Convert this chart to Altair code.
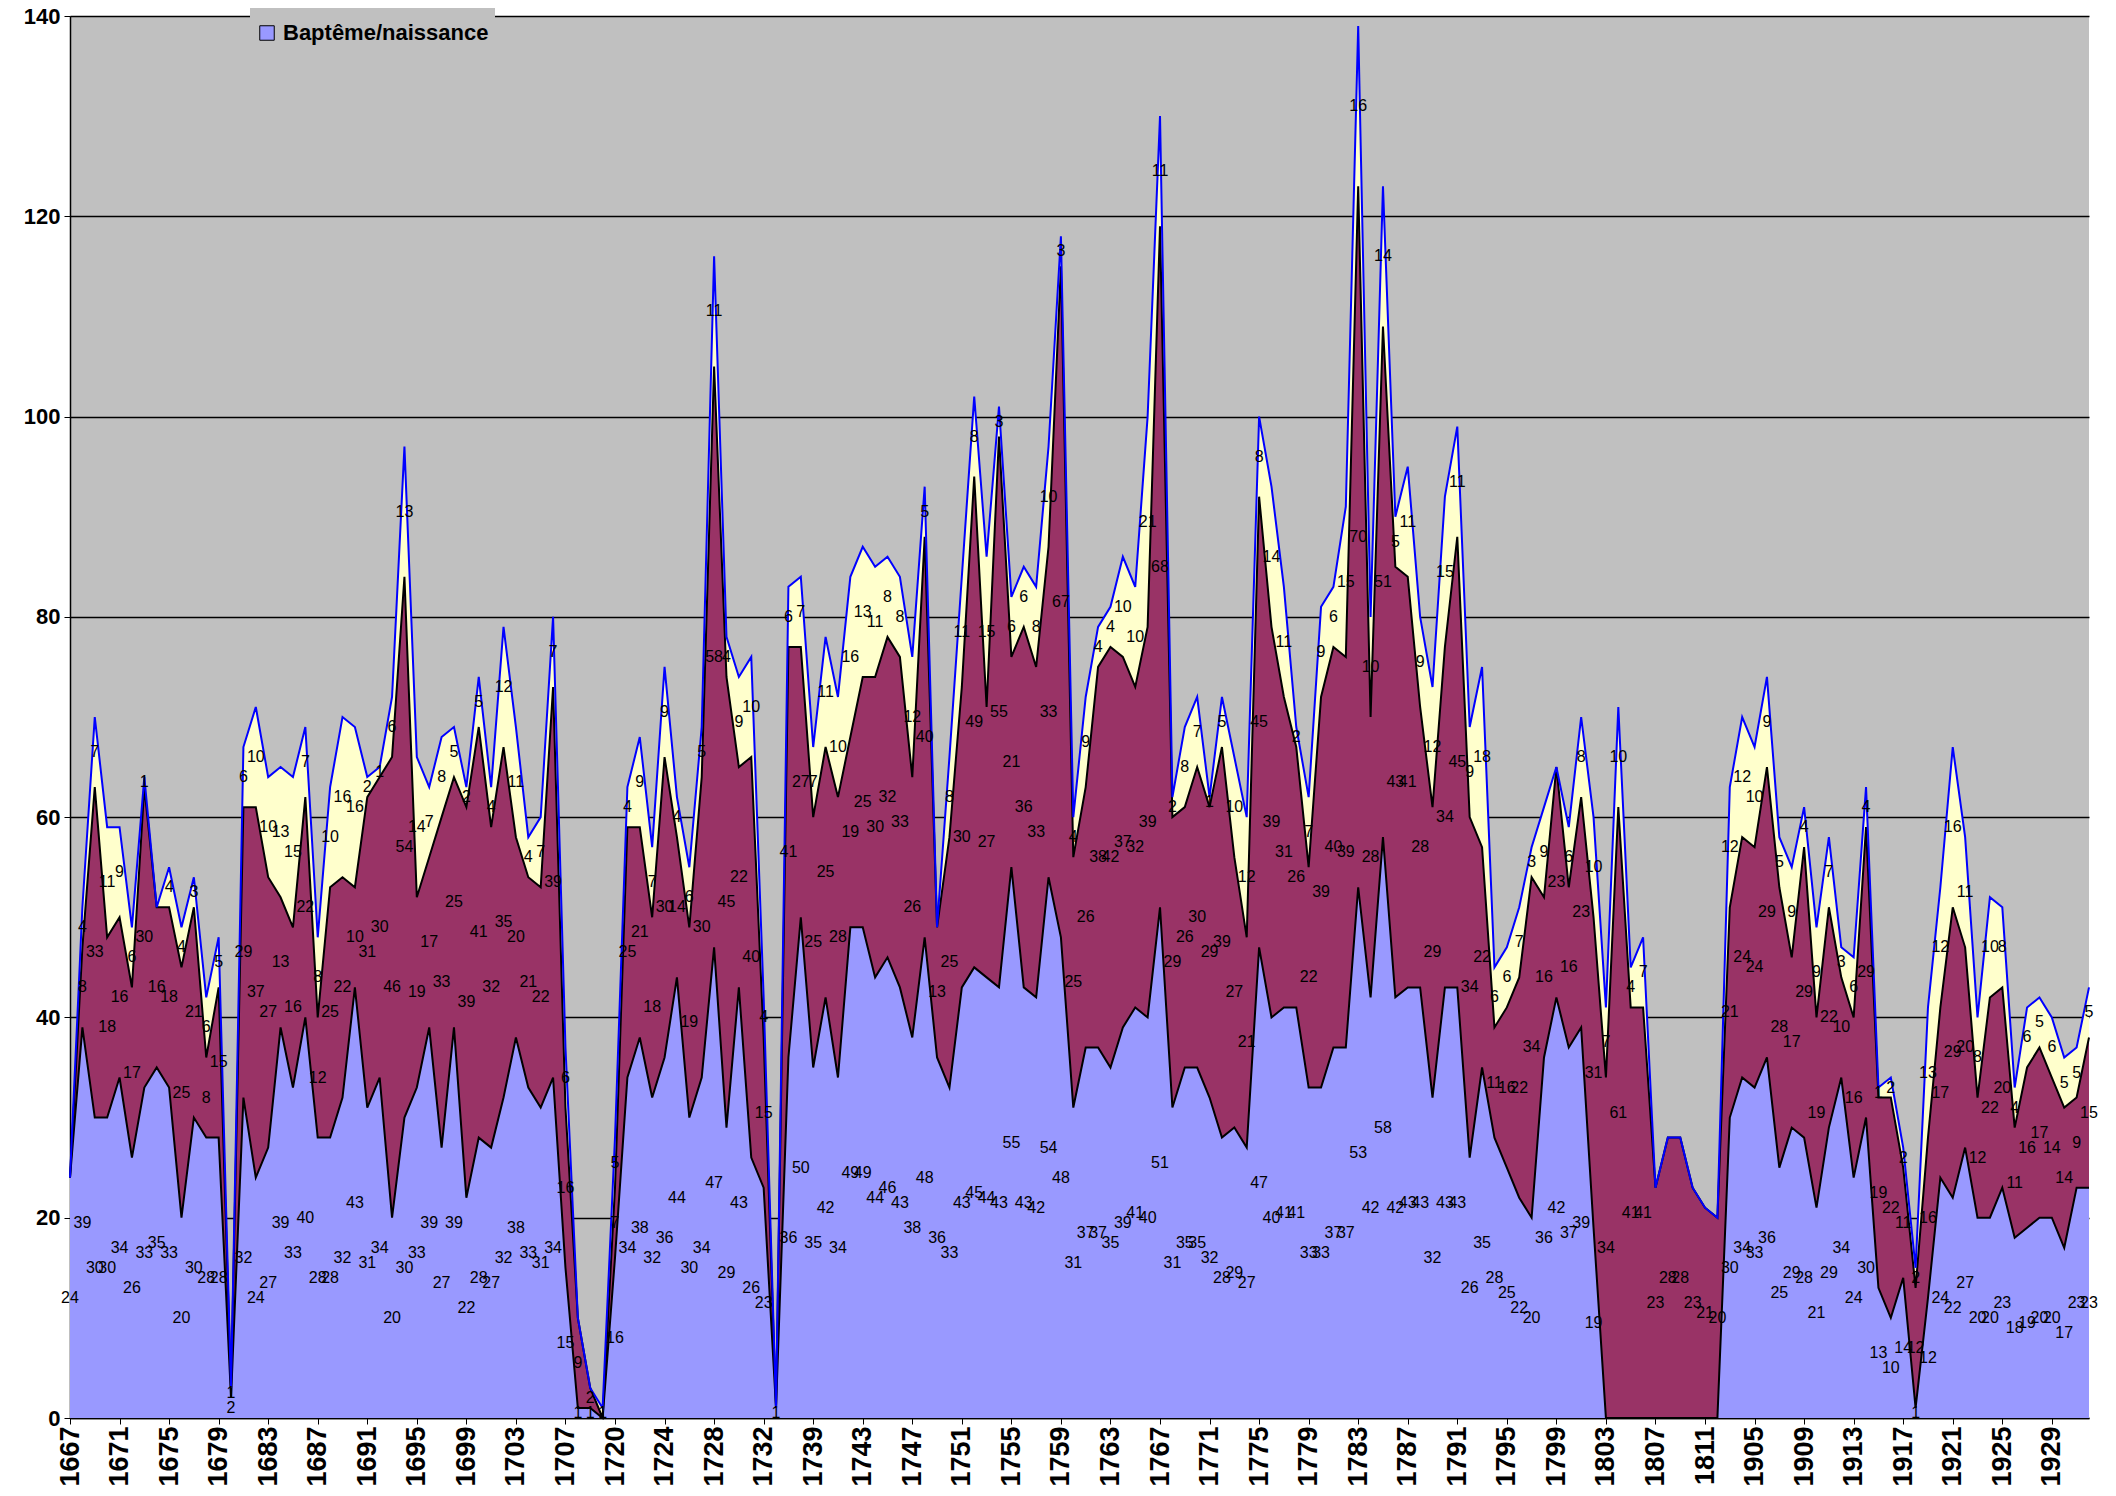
import altair as alt
import pandas as pd

# ---------------- data ----------------
categories = (
    [str(y) for y in range(1667, 1708)]
    + ["1708", "1709", "1719"]
    + [str(y) for y in range(1720, 1733)]
    + ["1733", "1737", "1738"]
    + [str(y) for y in range(1739, 1812)]
    + ["1902", "1903", "1904"]
    + [str(y) for y in range(1905, 1933)]
)

bapteme = [
    24, 39, 30, 30, 34, 26, 33, 35, 33, 20, 30, 28, 28, 2, 32, 24, 27, 39, 33, 40,
    28, 28, 32, 43, 31, 34, 20, 30, 33, 39, 27, 39, 22, 28, 27, 32, 38, 33, 31, 34,
    15, 1, 1, 0, 16, 34, 38, 32, 36, 44, 30, 34, 47, 29, 43, 26, 23, 1, 36, 50,
    35, 42, 34, 49, 49, 44, 46, 43, 38, 48, 36, 33, 43, 45, 44, 43, 55, 43, 42, 54,
    48, 31, 37, 37, 35, 39, 41, 40, 51, 31, 35, 35, 32, 28, 29, 27, 47, 40, 41, 41,
    33, 33, 37, 37, 53, 42, 58, 42, 43, 43, 32, 43, 43, 26, 35, 28, 25, 22, 20, 36,
    42, 37, 39, 19, 0, 0, 0, 0, 0, 0, 0, 0, 0, 0, 30, 34, 33, 36, 25, 29,
    28, 21, 29, 34, 24, 30, 13, 10, 14, 1, 12, 24, 22, 27, 20, 20, 23, 18, 19, 20,
    20, 17, 23, 23,
]

deces = [
    0, 8, 33, 18, 16, 17, 30, 16, 18, 25, 21, 8, 15, 1, 29, 37, 27, 13, 16, 22,
    12, 25, 22, 10, 31, 30, 46, 54, 19, 17, 33, 25, 39, 41, 32, 35, 20, 21, 22, 39,
    16, 9, 2, 0, 7, 25, 21, 18, 30, 14, 19, 30, 58, 45, 22, 40, 15, 0, 41, 27,
    25, 25, 28, 19, 25, 30, 32, 33, 26, 40, 13, 25, 30, 49, 27, 55, 21, 36, 33, 33,
    67, 25, 26, 38, 42, 37, 32, 39, 68, 29, 26, 30, 29, 39, 27, 21, 45, 39, 31, 26,
    22, 39, 40, 39, 70, 28, 51, 43, 41, 28, 29, 34, 45, 34, 22, 11, 16, 22, 34, 16,
    23, 16, 23, 31, 34, 61, 41, 41, 23, 28, 28, 23, 21, 20, 21, 24, 24, 29, 28, 17,
    29, 19, 22, 10, 16, 29, 19, 22, 11, 12, 16, 17, 29, 20, 12, 22, 20, 11, 16, 17,
    14, 14, 9, 15,
]

mariages = [
    0, 4, 7, 11, 9, 6, 1, 0, 4, 4, 3, 6, 5, 0, 6, 10, 10, 13, 15, 7,
    8, 10, 16, 16, 2, 1, 6, 13, 14, 7, 8, 5, 2, 5, 4, 12, 11, 4, 7, 7,
    6, 0, 0, 1, 5, 4, 9, 7, 9, 4, 6, 5, 11, 4, 9, 10, 4, 0, 6, 7,
    7, 11, 10, 16, 13, 11, 8, 8, 12, 5, 0, 8, 11, 8, 15, 3, 6, 6, 8, 10,
    3, 4, 9, 4, 4, 10, 10, 21, 11, 2, 8, 7, 1, 5, 10, 12, 8, 14, 11, 2,
    7, 9, 6, 15, 16, 10, 14, 5, 11, 9, 12, 15, 11, 9, 18, 6, 6, 7, 3, 9,
    0, 6, 8, 10, 7, 10, 4, 7, 0, 0, 0, 0, 0, 0, 12, 12, 10, 9, 5, 9,
    4, 9, 7, 3, 6, 4, 1, 2, 2, 2, 13, 12, 16, 11, 8, 10, 8, 4, 6, 5,
    6, 5, 5, 5,
]

series_names = ["Mariages", "Décès", "Baptême/naissance"]
series_colors = ["#FFFFCC", "#993366", "#9999FF"]
tick_labels = categories[::4]
y_ticks = [0, 20, 40, 60, 80, 100, 120, 140]

# ---------------- derived tables ----------------
base = pd.DataFrame({"cat": categories, "b": bapteme, "d": deces, "m": mariages})
base["c1"] = base["b"]
base["c2"] = base["b"] + base["d"]
base["c3"] = base["c2"] + base["m"]

rows = []
for _, r in base.iterrows():
    parts = [
        ("Baptême/naissance", 0, r["c1"], r["b"]),
        ("Décès", r["c1"], r["c2"], r["d"]),
        ("Mariages", r["c2"], r["c3"], r["m"]),
    ]
    for name, lo, hi, val in parts:
        rows.append({"cat": r["cat"], "series": name, "lo": lo, "hi": hi,
                     "val": val, "mid": (lo + hi) / 2})
long = pd.DataFrame(rows)
labels = long[long["val"] > 0].copy()
labels["txt"] = labels["val"].astype(int).astype(str)

FONT = "Liberation Sans"
x_scale = alt.Scale(type="point", padding=0, domain=categories)

x_enc = alt.X(
    "cat:O",
    sort=categories,
    scale=x_scale,
    axis=alt.Axis(
        values=tick_labels, labelAngle=-90, title=None, labelFont=FONT,
        labelFontSize=27, labelFontWeight="bold", labelColor="black",
        domainColor="black", domainWidth=1.5, tickColor="black", tickSize=6,
        labelPadding=2, grid=False, labelOverlap=False,
    ),
)
y_scale = alt.Scale(domain=[0, 140], nice=False, zero=True)
y_axis = alt.Axis(
    values=y_ticks, title=None, labelFont=FONT, labelFontSize=22,
    labelFontWeight="bold", labelColor="black", domainColor="black",
    domainWidth=1.5, tickColor="black", tickSize=6, grid=True,
    gridColor="black", gridWidth=1.5, labelPadding=4,
)

areas = alt.Chart(long).mark_area(opacity=1, interpolate="linear").encode(
    x=x_enc,
    y=alt.Y("hi:Q", stack=None, scale=y_scale, axis=y_axis),
    y2="lo:Q",
    color=alt.Color(
        "series:N",
        scale=alt.Scale(domain=series_names, range=series_colors),
        legend=alt.Legend(
            title=None, orient="none", legendX=180, legendY=-76,
            symbolType="square", symbolSize=210, symbolStrokeColor="black",
            symbolStrokeWidth=1, symbolOpacity=1, labelFont=FONT,
            labelFontSize=22, labelFontWeight="bold", labelColor="black",
            labelLimit=0, fillColor="#C0C0C0", padding=6, rowPadding=16,
            labelOffset=5,
        ),
    ),
    detail="series:N",
)

def boundary(field, colour):
    return alt.Chart(base).mark_line(color=colour, strokeWidth=2, interpolate="linear").encode(
        x=alt.X("cat:O", sort=categories, scale=x_scale),
        y=alt.Y(f"{field}:Q", scale=y_scale),
    )

texts = alt.Chart(labels).mark_text(
    font=FONT, fontSize=16, color="black", align="center", baseline="middle"
).encode(
    x=alt.X("cat:O", sort=categories, scale=x_scale),
    y=alt.Y("mid:Q", scale=y_scale),
    text="txt:N",
)

chart = alt.layer(
    areas,
    boundary("c1", "black"),
    boundary("c2", "black"),
    boundary("c3", "#0000FF"),
    texts,
).properties(
    width=2019,
    height=1402,
    background="white",
    padding={"left": 62, "top": 8, "right": 19, "bottom": 76},
    autosize=alt.AutoSizeParams(type="none"),
).configure_view(fill="#C0C0C0", stroke=None)

chart.save("out.html", embed_options={"renderer": "svg", "actions": False})
